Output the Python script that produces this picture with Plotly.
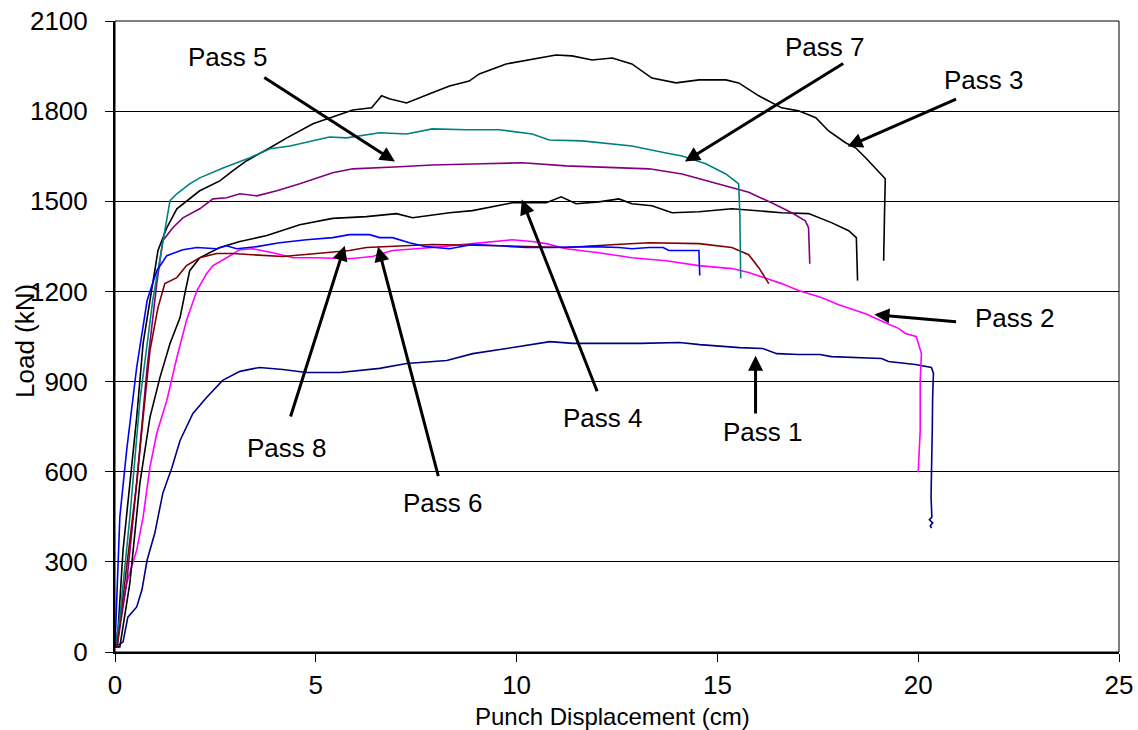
import plotly.graph_objects as go

# ---- data (Punch Displacement cm, Load kN) ----
p1_x = [0, 0.20, 0.32, 0.54, 0.67, 0.80, 0.99, 1.19, 1.42, 1.62, 1.94, 2.28, 2.68, 3.11, 3.60, 4.18, 4.77, 5.42,
        5.60, 6.59, 7.26, 8.26, 8.91, 9.75, 10.25, 10.83, 11.40, 12.24, 13.07, 14.06, 14.56, 15.55, 16.13, 16.48,
        17.02, 17.55, 17.84, 19.09, 19.26, 19.93, 20.33, 20.38, 20.36, 20.35, 20.33, 20.32, 20.34, 20.28, 20.36,
        20.30, 20.33]
p1_y = [17, 33, 116, 150, 206, 306, 395, 528, 615, 704, 794, 847, 904, 934, 947, 940, 930, 930,
        930, 944, 960, 970, 993, 1010, 1020, 1033, 1027, 1027, 1027, 1030, 1023, 1013, 1010, 993,
        990, 990, 983, 977, 967, 957, 947, 927, 850, 738, 600, 515, 449, 440, 430,
        420, 412]

p2_x = [0, 0.29, 0.54, 0.70, 0.87, 1.04, 1.29, 1.54, 1.78, 2.04, 2.28, 2.44, 2.78, 3.11, 3.43, 3.93, 4.43, 5.02,
        5.84, 6.41, 6.91, 7.90, 8.90, 9.89, 10.39, 10.74, 11.23, 12.05, 12.87, 13.72, 14.54, 15.36, 15.78, 16.60,
        17.02, 17.59, 18.02, 18.69, 19.18, 19.51, 19.68, 19.95, 20.08, 20.05, 20.05, 20.00]
p2_y = [17, 229, 339, 449, 615, 728, 837, 980, 1103, 1203, 1259, 1286, 1312, 1339, 1342, 1329, 1312, 1312,
        1309, 1316, 1336, 1346, 1359, 1372, 1366, 1359, 1342, 1329, 1312, 1302, 1286, 1276, 1263, 1226,
        1203, 1180, 1156, 1126, 1096, 1077, 1060, 1050, 993, 904, 738, 598]

p3_x = [0, 0.05, 0.20, 0.37, 0.54, 0.70, 0.87, 1.07, 1.29, 1.54, 2.11, 2.61, 2.93, 3.28, 3.86, 4.28, 4.93, 5.35,
        5.92, 6.39, 6.64, 6.83, 7.26, 7.90, 8.33, 8.82, 9.07, 9.74, 10.39, 10.98, 11.38, 11.88, 12.38, 12.87,
        13.37, 13.97, 14.54, 15.21, 15.53, 16.03, 16.60, 17.02, 17.45, 17.77, 18.19, 18.44, 18.69, 19.01,
        19.18, 19.16, 19.14]
p3_y = [17, 17, 339, 562, 781, 1027, 1170, 1336, 1412, 1475, 1535, 1568, 1601, 1635, 1678, 1711, 1758, 1778,
        1804, 1811, 1851, 1841, 1827, 1861, 1884, 1900, 1924, 1957, 1974, 1987, 1984, 1970, 1977, 1957,
        1910, 1894, 1904, 1904, 1894, 1851, 1811, 1801, 1778, 1734, 1695, 1678, 1645, 1601,
        1575, 1450, 1302]

p4_x = [0, 0.12, 0.37, 0.62, 0.87, 1.12, 1.37, 1.62, 1.74, 1.86, 2.11, 2.61, 3.11, 3.78, 4.60, 5.42, 6.26, 7.01,
        7.41, 8.33, 8.90, 9.39, 9.89, 10.74, 11.11, 11.48, 12.05, 12.55, 12.87, 13.37, 13.87, 14.54, 15.36,
        16.60, 17.27, 17.84, 18.27, 18.46, 18.49]
p4_y = [17, 17, 229, 562, 781, 914, 1027, 1113, 1193, 1269, 1312, 1346, 1366, 1386, 1422, 1443, 1449, 1459,
        1445, 1462, 1469, 1482, 1495, 1495, 1515, 1492, 1498, 1508, 1492, 1485, 1462, 1465, 1475,
        1462, 1459, 1429, 1402, 1379, 1236]

p5_x = [0, 0.05, 0.29, 0.54, 0.80, 1.04, 1.19, 1.44, 1.69, 2.11, 2.44, 2.78, 3.11, 3.53, 4.03, 4.60, 5.42, 5.92,
        7.08, 7.90, 9.15, 10.14, 11.23, 12.47, 13.30, 14.12, 14.96, 15.78, 16.35, 16.85, 17.19, 17.27, 17.30]
p5_y = [17, 17, 229, 562, 947, 1226, 1369, 1412, 1445, 1475, 1508, 1512, 1525, 1518, 1535, 1558, 1595, 1608,
        1615, 1621, 1625, 1628, 1618, 1611, 1608, 1591, 1560, 1530, 1495, 1462, 1435, 1412, 1292]

p6_x = [0, 0.05, 0.29, 0.54, 0.70, 0.87, 1.07, 1.24, 1.54, 1.78, 2.11, 2.53, 2.93, 3.35, 4.18, 5.02, 5.84, 6.26,
        7.08, 7.90, 9.57, 11.23, 12.47, 13.30, 14.54, 15.36, 15.78, 16.03, 16.28]
p6_y = [17, 17, 283, 562, 781, 1003, 1146, 1226, 1246, 1286, 1312, 1326, 1326, 1322, 1316, 1326, 1336, 1346,
        1352, 1356, 1352, 1346, 1356, 1362, 1359, 1346, 1322, 1279, 1226]

p7_x = [0, 0.12, 0.37, 0.62, 0.94, 1.19, 1.37, 1.54, 1.86, 2.11, 2.69, 3.36, 3.86, 4.36, 4.93, 5.34, 5.77, 6.59,
        7.26, 7.90, 8.75, 9.57, 10.39, 10.81, 11.63, 12.47, 12.87, 13.72, 14.12, 14.71, 15.21, 15.53, 15.56, 15.58]
p7_y = [17, 116, 449, 837, 1170, 1359, 1502, 1525, 1558, 1578, 1611, 1645, 1675, 1684, 1701, 1714, 1711, 1728,
        1724, 1741, 1738, 1738, 1724, 1704, 1701, 1691, 1684, 1661, 1651, 1625, 1591, 1558, 1450, 1243]

p8_x = [0, 0.12, 0.29, 0.54, 0.80, 1.04, 1.29, 1.69, 2.04, 2.53, 2.78, 3.03, 3.53, 4.10, 4.77, 5.42, 5.84, 6.34,
        6.59, 6.91, 7.33, 7.75, 8.33, 8.90, 9.57, 10.24, 10.89, 11.88, 12.55, 12.87, 13.30, 13.65, 13.79, 14.54, 14.56]
p8_y = [17, 449, 671, 947, 1170, 1269, 1319, 1339, 1346, 1342, 1352, 1342, 1349, 1362, 1372, 1379, 1389, 1389,
        1379, 1379, 1362, 1349, 1342, 1356, 1352, 1346, 1346, 1349, 1346, 1342, 1346, 1346, 1336, 1336, 1253]

series = [
    ("Pass 1", p1_x, p1_y, "#000080"),
    ("Pass 2", p2_x, p2_y, "#FF00FF"),
    ("Pass 3", p3_x, p3_y, "#000000"),
    ("Pass 4", p4_x, p4_y, "#000000"),
    ("Pass 5", p5_x, p5_y, "#800080"),
    ("Pass 6", p6_x, p6_y, "#800000"),
    ("Pass 7", p7_x, p7_y, "#008080"),
    ("Pass 8", p8_x, p8_y, "#0000FF"),
]

# label position, arrow tail, arrow tip (data coordinates)
labels = ["Pass 1", "Pass 2", "Pass 3", "Pass 4", "Pass 5", "Pass 6", "Pass 7", "Pass 8"]
label_x = [16.13, 22.40, 21.65, 12.15, 2.81, 8.16, 17.67, 4.28]
label_y = [733, 1112, 1905, 779, 1979, 496, 2012, 680]
tail_x = [15.95, 20.98, 20.98, 12.02, 3.68, 8.06, 18.17, 4.36]
tail_y = [789, 1099, 1842, 863, 1915, 580, 1962, 779]
tip_x = [15.95, 18.91, 18.24, 10.13, 6.97, 6.55, 14.19, 5.72]
tip_y = [986, 1123, 1682, 1506, 1632, 1349, 1632, 1352]

FONT = "Liberation Sans, Arial, sans-serif"

fig = go.Figure()
for name, xs, ys, col in series:
    fig.add_trace(go.Scatter(x=xs, y=ys, mode="lines", name=name,
                             line=dict(color=col, width=1.6), showlegend=False))

for i, lab in enumerate(labels):
    fig.add_annotation(x=tip_x[i], y=tip_y[i], ax=tail_x[i], ay=tail_y[i],
                       xref="x", yref="y", axref="x", ayref="y", text="",
                       showarrow=True, arrowhead=2, arrowsize=1.0, arrowwidth=3,
                       arrowcolor="black")
    fig.add_annotation(x=label_x[i], y=label_y[i], xref="x", yref="y", text=lab,
                       showarrow=False, xanchor="center", yanchor="middle",
                       font=dict(family=FONT, size=26, color="black"))

fig.add_annotation(x=0.496, y=-0.1025, xref="paper", yref="paper", text="Punch Displacement (cm)",
                   showarrow=False, xanchor="center", yanchor="middle",
                   font=dict(family=FONT, size=24, color="black"))
fig.add_annotation(x=-0.0896, y=0.493, xref="paper", yref="paper", text="Load (kN)", textangle=-90,
                   showarrow=False, xanchor="center", yanchor="middle",
                   font=dict(family=FONT, size=26, color="black"))

# plot frame
fig.add_shape(type="rect", xref="paper", yref="paper", x0=0, y0=0, x1=1, y1=1,
              line=dict(color="black", width=1), layer="above")

fig.update_xaxes(range=[0, 25], dtick=5, tick0=0, showgrid=False, zeroline=False,
                 showline=True, linecolor="black", linewidth=2, automargin=False,
                 ticks="outside", ticklen=8, tickcolor="black", tickwidth=1,
                 ticklabelstandoff=1,
                 tickfont=dict(family=FONT, size=26, color="black"))
fig.update_yaxes(range=[0, 2100], dtick=300, tick0=0, showgrid=True, gridcolor="black", gridwidth=1,
                 zeroline=False, showline=True, linecolor="black", linewidth=2, automargin=False,
                 ticks="outside", ticklen=8, tickcolor="black", tickwidth=1,
                 ticklabelstandoff=12,
                 tickfont=dict(family=FONT, size=26, color="black"))

fig.update_layout(width=1138, height=730, margin=dict(l=115, r=19, t=21, b=78),
                  paper_bgcolor="white", plot_bgcolor="white", hovermode=False)

fig.write_html("out.html", config={"displayModeBar": False})
